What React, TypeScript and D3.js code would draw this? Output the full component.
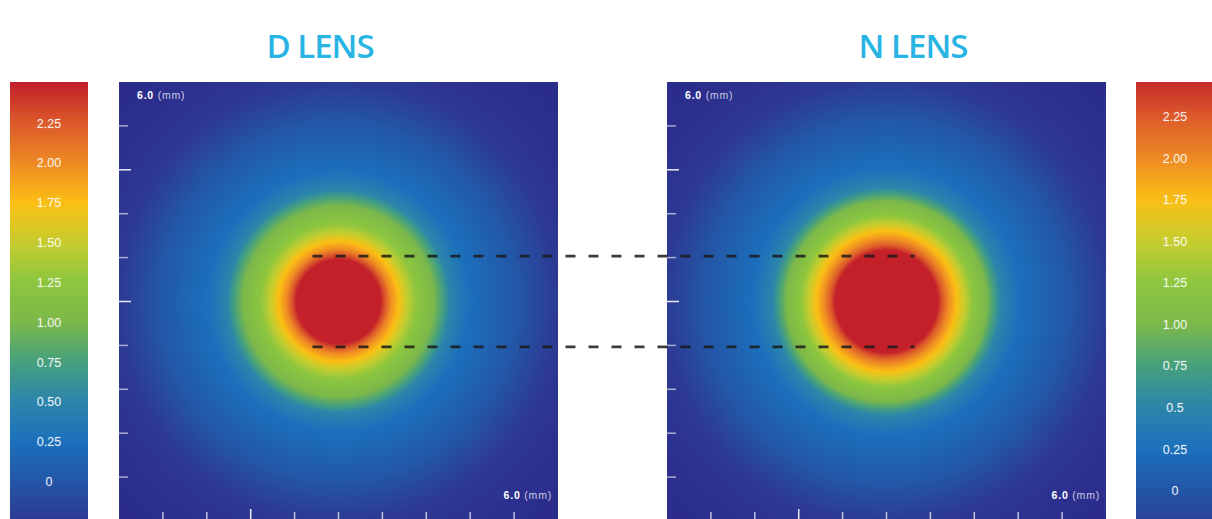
import React from 'react';
import * as d3 from 'd3';

// colour bar: value -> colour
const colorValues = [-0.45, -0.25, 0, 0.25, 0.5, 0.75, 1.0, 1.25, 1.5, 1.75, 2.0, 2.25, 2.5];
const colorHex = ['#2b2c8c', '#2d3992', '#2356a6', '#1b70bc', '#2c85ab', '#45a07e', '#7cb84a', '#8cc63f', '#c6cd2e', '#fbbf14', '#ee8a24', '#dc5a2a', '#c3202a'];

const leftLabels = ['2.25', '2.00', '1.75', '1.50', '1.25', '1.00', '0.75', '0.50', '0.25', '0'];
const rightLabels = ['2.25', '2.00', '1.75', '1.50', '1.25', '1.00', '0.75', '0.5', '0.25', '0'];
const labelValues = [2.25, 2.0, 1.75, 1.5, 1.25, 1.0, 0.75, 0.5, 0.25, 0];

// radial power profiles (radius in mm from lens centre -> value)
const profileValues = [2.5, 2.5, 2.25, 2.0, 1.75, 1.5, 1.25, 1.0, 0.75, 0.5, 0.25, 0, -0.25, -0.4, -0.45];
const dLensRadius = [0, 0.575, 0.644, 0.712, 0.822, 0.932, 1.068, 1.301, 1.425, 1.521, 1.781, 2.466, 3.014, 3.630, 4.25];
const nLensRadius = [0, 0.699, 0.767, 0.849, 0.959, 1.068, 1.178, 1.370, 1.466, 1.562, 1.822, 2.507, 3.041, 3.658, 4.25];

const axisTicks = [0.6, 1.2, 1.8, 2.4, 3.0, 3.6, 4.2, 4.8, 5.4];
const zoneTop = 3.0 + 0.62;     // mm, top dashed line
const zoneBottom = 3.0 - 0.62;  // mm, bottom dashed line

const W = 1212;
const H = 519;

const color = d3.scaleLinear<string>().domain(colorValues).range(colorHex).interpolate(d3.interpolateRgb);

const Legend = ({ x0, top, y0, y225, labels }) => {
  const w = 78;
  const y = d3.scaleLinear().domain([0, 2.25]).range([y0, y225]);
  const vTop = y.invert(top);
  const vBot = y.invert(H + 2);
  const id = `lg${x0}`;
  const stops = d3.range(0, 41).map(i => vBot + (vTop - vBot) * i / 40);
  return (
    <g>
      <defs>
        <linearGradient id={id} x1="0" y1="1" x2="0" y2="0">
          {stops.map((v, i) => <stop key={i} offset={i / 40} stopColor={color(v)} />)}
        </linearGradient>
      </defs>
      <rect x={x0} y={top} width={w} height={H + 2 - top} fill={`url(#${id})`} />
      {labels.map((t, i) => (
        <text key={t} x={x0 + w / 2} y={y(labelValues[i])} dy="0.35em" textAnchor="middle"
          fontFamily="Liberation Sans, Arial, sans-serif" fontSize={12.5} fill="#fff" fillOpacity={0.88}
          stroke="#fff" strokeOpacity={0.3} strokeWidth={0.4}>{t}</text>
      ))}
    </g>
  );
};

const LensMap = ({ x0, radius, id }) => {
  const size = 439;
  const top = 82;
  const x = d3.scaleLinear().domain([0, 6]).range([x0, x0 + size]);
  const y = d3.scaleLinear().domain([0, 6]).range([top + size, top]);
  const r = d3.scaleLinear().domain([0, 4.25]).range([0, x(4.25) - x(0)]);
  const mm = (
    <>
      <tspan fontWeight="bold">6.0</tspan><tspan fillOpacity={0.75}> (mm)</tspan>
    </>
  );
  return (
    <g>
      <defs>
        <radialGradient id={id} gradientUnits="userSpaceOnUse" cx={x(3)} cy={y(3)} r={r(4.25)}>
          {radius.map((d, i) => (
            <stop key={i} offset={d / 4.25} stopColor={color(profileValues[i])} />
          ))}
        </radialGradient>
      </defs>
      <rect x={x(0)} y={y(6)} width={size} height={size} fill={`url(#${id})`} />
      {axisTicks.map((t, i) => (
        <line key={'y' + i} x1={x(0)} x2={x(0) + (i === 1 || i === 4 ? 12 : 9)} y1={y(6 - t)} y2={y(6 - t)}
          stroke="#fff" strokeOpacity={i === 1 || i === 4 ? 0.9 : 0.6} strokeWidth={1.5} />
      ))}
      {axisTicks.map((t, i) => (
        <line key={'x' + i} x1={x(t)} x2={x(t)} y1={y(0)} y2={y(0) - (i === 2 ? 12 : 9)}
          stroke="#fff" strokeOpacity={i === 2 ? 0.9 : 0.7} strokeWidth={1.5} />
      ))}
      <text x={x(0) + 18} y={y(6) + 17} fontFamily="Liberation Sans, Arial, sans-serif" fontSize={10.5}
        letterSpacing={0.8} fill="#fff">{mm}</text>
      <text x={x(6) - 6} y={y(0) - 22} textAnchor="end" fontFamily="Liberation Sans, Arial, sans-serif" fontSize={10.5}
        letterSpacing={0.8} fill="#fff">{mm}</text>
    </g>
  );
};

export default function App() {
  const leftX = 119;
  const rightX = 667;
  const yMap = d3.scaleLinear().domain([0, 6]).range([82 + 439, 82]);
  const xl = d3.scaleLinear().domain([0, 6]).range([leftX, leftX + 439]);
  const xr = d3.scaleLinear().domain([0, 6]).range([rightX, rightX + 439]);
  return (
    <svg width={W} height={H} style={{ position: 'absolute', left: 0, top: 0, display: 'block', background: '#fff' }}>
      <Legend x0={10} top={82} y0={481.7} y225={123.3} labels={leftLabels} />
      <Legend x0={1136} top={82} y0={490.7} y225={116.7} labels={rightLabels} />
      <LensMap x0={leftX} radius={dLensRadius} id="dlens" />
      <LensMap x0={rightX} radius={nLensRadius} id="nlens" />
      {[zoneTop, zoneBottom].map((v, i) => (
        <line key={i} x1={xl(3) - 26} x2={xr(3) + 28} y1={yMap(v)} y2={yMap(v)}
          stroke="#1a1a1a" strokeOpacity={0.85} strokeWidth={2.8} strokeDasharray="10,13" />
      ))}
      <text x={320} y={58} textAnchor="middle" fontFamily="Open Sans" fontWeight={600} fontSize={33}
        letterSpacing={-1} fill="#29b5e3">D LENS</text>
      <text x={913} y={58} textAnchor="middle" fontFamily="Open Sans" fontWeight={600} fontSize={33}
        letterSpacing={-1} fill="#29b5e3">N LENS</text>
    </svg>
  );
}
